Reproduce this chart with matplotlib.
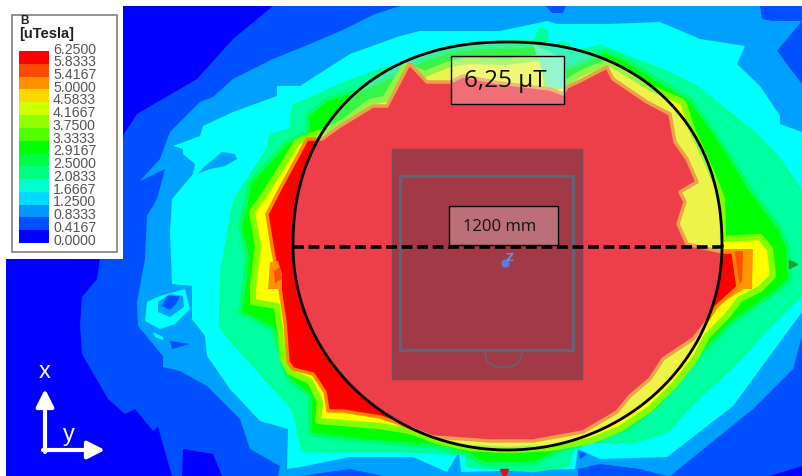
import numpy as np
import matplotlib
matplotlib.use('Agg')
import matplotlib.pyplot as plt
from matplotlib.patches import Rectangle

# field outlines, in picture pixels
lvl_0050 = [(273,7),(233,40),(197,80),(137,115),(124,135),(100,260),(97,280),(82,298),(80,325),(82,355),(108,400),(125,415),(135,410),(153,432),(158,428),(172,477),(770,477),(802,467),(802,7)]
hole_bottom_left = [(183,450),(213,455),(222,477),(182,477)]
lvl_00a0 = [(273,60),(310,45),(345,30),(375,15),(400,7),(760,7),(762,20),(772,22),(802,22),(777,52),(802,85),(802,337),(793,370),(753,410),(670,477),(278,477),(280,467),(250,450),(240,420),(207,387),(180,372),(163,368),(163,357),(138,327),(137,303),(145,260),(147,217),(157,200),(165,170),(140,182),(160,160),(170,133),(200,103),(213,98),(233,80)]
lvl_00ff = [(277,87),(300,87),(350,55),(400,37),(420,32),(500,32),(547,22),(557,25),(607,25),(660,23),(700,40),(745,47),(737,65),(760,87),(780,117),(780,125),(802,133),(802,313),(733,407),(667,458),(600,460),(578,450),(575,470),(461,473),(459,453),(447,473),(413,458),(350,458),(300,468),(287,470),(288,430),(260,422),(230,390),(207,357),(205,337),(192,320),(192,287),(172,285),(170,233),(172,200),(193,175),(195,165),(183,155),(183,150),(173,147),(200,137),(203,127),(233,113),(277,97)]
lvl_teal = [(293,107),(347,83),(383,70),(410,63),(440,50),(470,44),(535,42),(540,30),(547,32),(547,50),(563,43),(577,52),(600,47),(667,73),(697,88),(753,133),(777,157),(802,193),(802,295),(767,330),(733,367),(700,397),(667,432),(633,443),(590,443),(573,450),(567,467),(533,472),(467,467),(467,455),(400,452),(303,452),(293,410),(263,377),(230,340),(220,327),(222,270),(233,207),(237,197),(268,150),(270,137),(290,130)]
lvl_green = [(307,117),(327,100),(363,90),(405,70),(425,60),(450,52),(480,48),(530,47),(540,44),(546,62),(560,72),(585,62),(605,52),(625,60),(660,82),(690,100),(712,130),(735,165),(750,190),(760,203),(780,230),(788,248),(790,280),(780,290),(733,323),(683,373),(657,407),(627,430),(593,440),(553,455),(533,465),(483,465),(467,455),(433,447),(400,445),(345,440),(310,435),(310,397),(288,380),(273,330),(240,313),(245,280),(247,257),(240,227),(245,207),(250,183),(287,143),(308,133)]
lvl_yellow = [(297,143),(310,137),(330,130),(345,122),(370,103),(385,100),(405,67),(425,75),(437,70),(450,65),(467,62),(507,63),(543,58),(548,90),(565,85),(580,75),(608,63),(653,90),(683,103),(693,133),(710,170),(722,200),(723,240),(760,238),(770,250),(773,277),(760,290),(740,300),(727,317),(707,337),(695,360),(675,385),(650,410),(620,430),(590,442),(550,449),(507,451),(470,449),(440,443),(410,432),(380,427),(318,422),(320,403),(310,382),(290,373),(283,360),(280,330),(277,307),(253,303),(253,287),(258,247),(252,213),(268,190)]
lobe_orange = [(722,250),(753,250),(752,290),(744,290),(720,305)]
lobe_deep = [(722,252),(743,252),(742,282),(736,290),(720,300)]
lvl_red = [(408,67),(410,65),(427,83),(450,83),(463,77),(500,84),(550,90),(563,95),(567,88),(580,82),(607,68),(613,80),(647,103),(670,115),(675,143),(687,160),(697,183),(680,193),(685,203),(678,225),(687,245),(722,253),(733,253),(738,288),(717,307),(705,325),(693,340),(663,360),(650,380),(630,397),(617,413),(583,433),(533,442),(490,442),(433,438),(395,423),(380,418),(343,412),(328,412),(325,393),(313,375),(293,370),(288,363),(285,323),(280,290),(272,247),(267,215),(280,190),(307,140),(322,140),(340,127),(373,107),(387,107)]
patch_orange = [(270,263),(278,262),(282,275),(282,290),(268,290)]
patch_deep = [(274,272),(280,268),(282,280),(275,284)]
teal_spike = [(533,45),(565,60),(567,90),(548,88)]

lobe_a0 = [(197,175),(205,167),(222,153),(235,155),(237,160),(225,167),(210,170)]
blob_cyan = [(147,303),(160,297),(185,290),(190,310),(175,325),(160,330),(145,322)]
blob_a0 = [(158,303),(170,295),(183,297),(184,308),(170,318),(158,313)]
blob_50 = [(162,307),(167,297),(180,297),(176,305),(170,311)]
sliver_50 = [(170,342),(190,345),(172,350)]
dash_cyan = [(153,333),(163,338),(163,341),(155,338)]
edge_50 = [[(546,7),(566,7),(563,14),(552,14)],
           [(578,452),(587,455),(580,460)],
           [(300,477),(350,470),(383,477)],
           [(578,470),(600,465),(640,470),(667,477),(578,477)]]
handle_x = [485,486,490,497,503,510,517,521,522]
handle_y = [353,360,365,368,368,368,365,360,353]

legend_ticks = ['6.2500','5.8333','5.4167','5.0000','4.5833','4.1667','3.7500','3.3333','2.9167','2.5000','2.0833','1.6667','1.2500','0.8333','0.4167','0.0000']
legend_colors = ['#ff0000','#ff4800','#ff9000','#ffd700','#d0ff00','#90ff00','#50ff00','#00ff00','#00ff40','#00ff80','#00ffcc','#00dcff','#0098ff','#0050ff','#0000ff']

fig = plt.figure(figsize=(8.02, 4.77), dpi=100)
ax = fig.add_axes([0, 0, 1, 1])
ax.set_xlim(0, 802)
ax.set_ylim(477, 0)
ax.axis('off')

def poly(points, color, edge=None, width=0, z=1):
    xs, ys = zip(*points)
    return ax.fill(xs, ys, facecolor=color, edgecolor=edge if edge else color, linewidth=width, zorder=z, joinstyle='round')

ax.add_patch(Rectangle((6, 7), 796, 470, color='#0000ff', lw=0, zorder=0))
poly(lvl_0050, '#0050ff')
poly(hole_bottom_left, '#0000ff')
poly(lvl_00a0, '#00a0ff')
for p in edge_50:
    poly(p, '#0050ff')
poly(lvl_00ff, '#00ffff')
poly(lobe_a0, '#00a0ff')
poly(blob_cyan, '#00ffff')
poly(blob_a0, '#00a0ff')
poly(blob_50, '#0050ff')
poly(sliver_50, '#0050ff')
poly(dash_cyan, '#00ffff')
poly(lvl_teal, '#00ffa0', '#00ff90', 2)
poly(lvl_green, '#00ff00', '#00ff60', 3)
poly(lvl_yellow, '#ffff00', '#80ff00', 4.5)
poly(teal_spike, '#50ffa0')
poly(lobe_orange, '#ff9800')
poly(lobe_deep, '#ff5000')
poly(lvl_red, '#ff0000', '#ff8800', 2.5)
poly(patch_orange, '#ff9000')
poly(patch_deep, '#ff5000')

# the circle in the picture bulges a bit in its upper half
t = np.linspace(0, 2 * np.pi, 361)
power = np.where(np.sin(t) > 0, 2 / 2.2, 1.0)
ring_x = 507.5 + 214.5 * np.sign(np.cos(t)) * np.abs(np.cos(t)) ** power
ring_y = 247 - 204 * np.sign(np.sin(t)) * np.abs(np.sin(t)) ** power
ax.fill(ring_x, ring_y, facecolor=(0.75, 0.86, 1.0), alpha=0.29, lw=0, zorder=2)
ax.plot(ring_x, ring_y, color='black', lw=2.0, zorder=5)

ax.add_patch(Rectangle((392, 150), 190, 230, facecolor='#182f42', alpha=0.35, lw=0, zorder=3))
ax.add_patch(Rectangle((392, 150), 190, 230, fill=False, edgecolor='#7a4a55', lw=1, zorder=3))
ax.add_patch(Rectangle((400, 177), 173, 174, fill=False, edgecolor='#636373', lw=2.4, zorder=4))
ax.plot(handle_x, handle_y, color='#636373', lw=1.2, zorder=4)

ax.plot([293, 722], [248, 248], color='black', lw=2.6, linestyle=(0, (3.0, 1.3)), zorder=6)
ax.plot([505], [264], 'o', color='#5080e0', ms=5, zorder=6)
ax.text(510, 258, 'Z', color='#6090e8', fontsize=8, ha='center', va='center', fontweight='bold', zorder=6)

ax.add_patch(Rectangle((451, 57), 113, 48, facecolor='white', alpha=0.25, lw=0, zorder=7))
ax.add_patch(Rectangle((451, 57), 113, 48, fill=False, edgecolor='black', lw=1, zorder=7))
ax.text(505, 81, '6,25 µT', fontsize=17.5, color='#111111', family='Open Sans', ha='center', va='center', zorder=8)
ax.add_patch(Rectangle((449, 207), 109, 39, facecolor='white', alpha=0.28, lw=0, zorder=7))
ax.add_patch(Rectangle((449, 207), 109, 39, fill=False, edgecolor='black', lw=1, zorder=7))
ax.text(500, 227, '1200 mm', fontsize=12, color='#111111', family='Open Sans', ha='center', va='center', zorder=8)

ax.plot([504], [474], marker='v', color='#ff0000', ms=6, zorder=6)
ax.plot([793], [265], marker='>', color='#2a9a30', ms=6, zorder=6)

# axis triad
head = dict(arrowstyle='-|>,head_width=0.33,head_length=0.65', color='white', lw=3.0, shrinkA=0, shrinkB=0, mutation_scale=16)
ax.annotate('', xy=(45, 390), xytext=(45, 453), arrowprops=head, zorder=6)
ax.annotate('', xy=(105, 451), xytext=(43, 451), arrowprops=head, zorder=6)
ax.text(45, 372, 'x', color='white', fontsize=17, family='Liberation Sans', ha='center', va='center', zorder=6)
ax.text(69, 435, 'y', color='white', fontsize=17, family='Liberation Sans', ha='center', va='center', zorder=6)

# legend
ax.add_patch(Rectangle((6, 7), 117, 253, facecolor='white', lw=0, zorder=10))
ax.add_patch(Rectangle((12, 16), 105, 237, facecolor='white', edgecolor='#808080', lw=1.2, zorder=10))
ax.text(20, 21, 'B', fontsize=8.5, fontweight='bold', family='Liberation Sans', ha='left', va='center', color='#222222', zorder=11)
ax.text(19, 34, '[uTesla]', fontsize=10.5, fontweight='bold', family='Liberation Sans', ha='left', va='center', color='#222222', zorder=11)
for i, c in enumerate(legend_colors):
    ax.add_patch(Rectangle((19, 52 + i * 12.8), 30, 12.8, facecolor=c, lw=0, zorder=11))
for i, tick in enumerate(legend_ticks):
    ax.text(53, 49.5 + i * 12.75, tick, fontsize=10.2, family='Liberation Sans', color='#555555', ha='left', va='center', zorder=11)

fig.savefig('out.png', dpi=100, facecolor='white')
